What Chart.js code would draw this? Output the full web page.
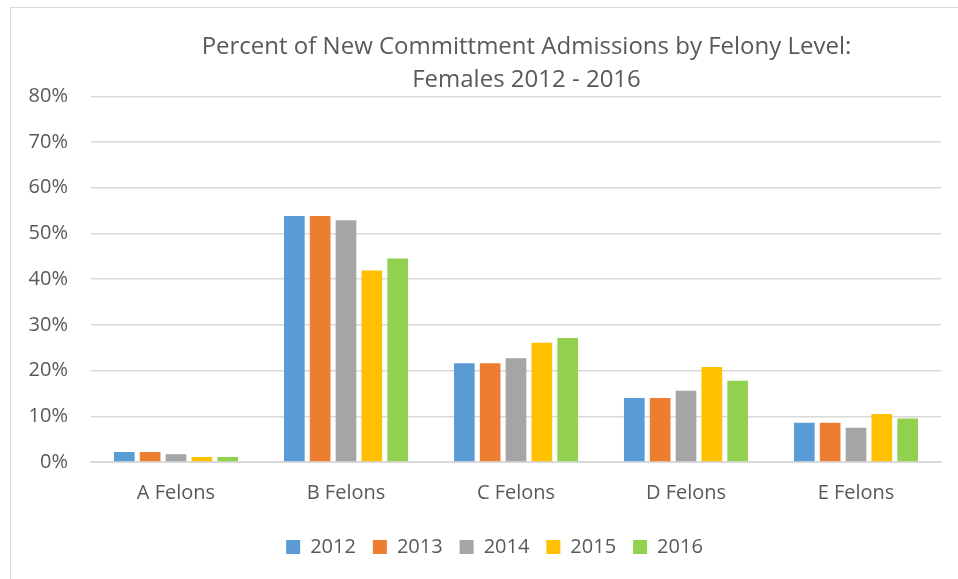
<!DOCTYPE html>
<html lang="en">
<head>
  <meta charset="UTF-8" />
  <title>Felony Level</title>
  <style>
    html, body { margin: 0; padding: 0; background: #fff; overflow: hidden; }
    .wrap { width: 958px; height: 579px; position: relative; overflow: hidden; }
    .frame { position: absolute; left: 10px; top: 7px; width: 1000px; height: 620px; border: 1.5px solid #d9d9d9; }
    canvas { position: absolute; left: 0; top: 0; }
  </style>
</head>
<body>
  <div class="wrap">
    <div class="frame"></div>
    <canvas id="myChart" width="958" height="579"></canvas>
  </div>
  <script src="https://cdn.jsdelivr.net/npm/chart.js@4/dist/chart.umd.min.js"></script>
  <script>
    const categories = ["A Felons", "B Felons", "C Felons", "D Felons", "E Felons"];
    const years = ["2012", "2013", "2014", "2015", "2016"];
    const v2012 = [2.2, 53.8, 21.6, 14.0, 8.6];
    const v2013 = [2.2, 53.8, 21.6, 14.0, 8.6];
    const v2014 = [1.7, 52.9, 22.7, 15.6, 7.5];
    const v2015 = [1.1, 41.9, 26.1, 20.8, 10.5];
    const v2016 = [1.1, 44.5, 27.1, 17.8, 9.5];
    const yTicks = [0, 10, 20, 30, 40, 50, 60, 70, 80];

    const colors = ["#5b9bd5", "#ed7d31", "#a5a5a5", "#ffc000", "#92d050"];
    const series = [v2012, v2013, v2014, v2015, v2016];

    const font = "'Open Sans', sans-serif";

    // excel puts the title and legend a bit off centre, nudge them after layout
    const nudge = {
      id: "nudge",
      afterLayout(chart) {
        const t = chart.titleBlock;
        t.left += 51; t.right += 51;
        const l = chart.legend;
        l.left += 19; l.right += 19;
      }
    };

    const ctx = document.getElementById("myChart").getContext("2d");
    const myChart = new Chart(ctx, {
      type: "bar",
      data: {
        labels: categories,
        datasets: years.map((y, i) => ({
          label: y,
          data: series[i],
          backgroundColor: colors[i],
          categoryPercentage: 0.76,
          barPercentage: 0.8
        }))
      },
      plugins: [nudge],
      options: {
        responsive: false,
        animation: { duration: 0 },
        layout: { padding: { left: 10, right: 17, top: 12, bottom: 12 } },
        plugins: {
          title: {
            display: true,
            text: ["Percent of New Committment Admissions by Felony Level:", "Females 2012 - 2016"],
            color: "#595959",
            font: { family: font, size: 24, weight: "normal", lineHeight: 1.36 },
            padding: { top: 19, bottom: 0 }
          },
          legend: {
            position: "bottom",
            labels: {
              color: "#595959",
              font: { family: font, size: 20 },
              boxWidth: 14,
              boxHeight: 14,
              padding: 17
            }
          },
          tooltip: { enabled: false }
        },
        scales: {
          x: {
            grid: { display: false },
            border: { color: "#d9d9d9", width: 2 },
            ticks: { color: "#595959", font: { family: font, size: 20 }, padding: 11 },
            afterFit: axis => { axis.height = 58; }
          },
          y: {
            min: 0,
            max: 80,
            afterBuildTicks: axis => { axis.ticks = yTicks.map(v => ({ value: v })); },
            afterFit: axis => { axis.width = 81; },
            grid: { color: "#d9d9d9", lineWidth: 1.5, drawTicks: false },
            border: { display: false },
            ticks: {
              color: "#595959",
              font: { family: font, size: 20 },
              padding: 23,
              callback: v => v + "%"
            }
          }
        }
      }
    });
  </script>
</body>
</html>
